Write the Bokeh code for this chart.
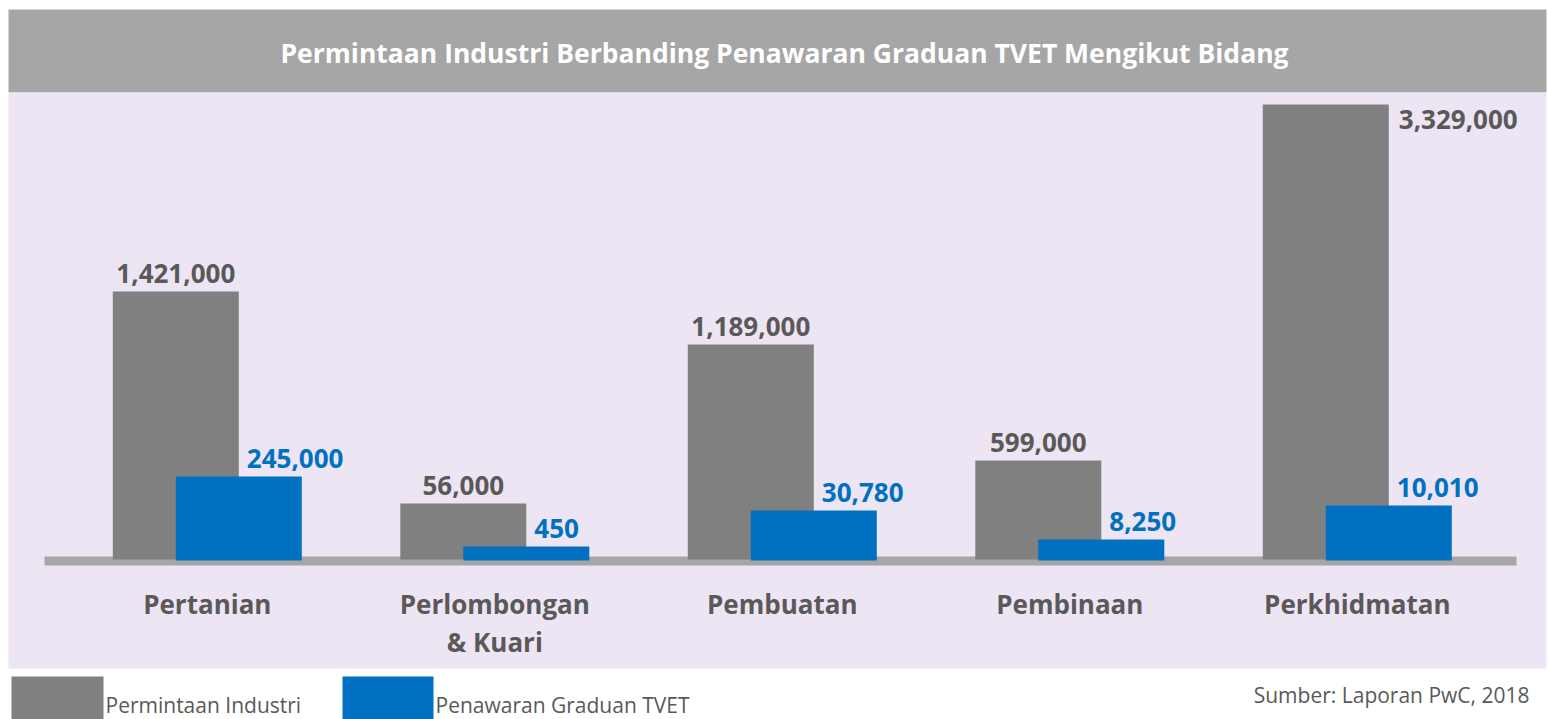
import numpy as np
from bokeh.plotting import figure
from bokeh.models import Range1d, ColumnDataSource, Label
from bokeh.core.properties import value
from bokeh.embed import file_html
from bokeh.resources import INLINE

# ---------------- data ----------------
title = "Permintaan Industri Berbanding Penawaran Graduan TVET Mengikut Bidang"
categories = ["Pertanian", "Perlombongan\n& Kuari", "Pembuatan", "Pembinaan", "Perkhidmatan"]
demand_values = [1421000, 56000, 1189000, 599000, 3329000]     # Permintaan Industri
supply_values = [245000, 450, 30780, 8250, 10010]              # Penawaran Graduan TVET
# the infographic is not drawn to scale: bar lengths as drawn (relative units)
demand_drawn = [266, 54, 213, 97, 453]
supply_drawn = [81, 11, 47, 18, 52]
series_names = ["Permintaan Industri", "Penawaran Graduan TVET"]
source_note = "Sumber: Laporan PwC, 2018"

# ---------------- style ----------------
GRAY_BAR = "#808080"
BLUE_BAR = "#0070C0"
BAND = "#A6A6A6"
LAVENDER = "#EDE5F4"
TXT = "#595959"
FONT = "Open Sans"

W, H = 1548, 719
UNIT = 287.5          # px per category
X0 = 206.8            # px of first category centre
BASE = 557            # px of baseline

def lift(fs):
    # compensation for where the svg renderer places the alphabetic baseline
    return 0.38 * fs

p = figure(width=W, height=H, output_backend="svg", toolbar_location=None,
           x_range=Range1d(-X0 / UNIT, (W - X0) / UNIT),
           y_range=Range1d(-(H - BASE), BASE),
           x_axis_location=None, y_axis_location=None, min_border=0)
p.grid.visible = False
p.outline_line_color = None
p.background_fill_color = "white"
p.border_fill_color = "white"
p.extra_x_ranges = {"px": Range1d(0, W)}
p.extra_y_ranges = {"py": Range1d(H, 0)}

def px_quad(l, r, t, b, color):
    p.quad(left=[l], right=[r], top=[t], bottom=[b], fill_color=color,
           line_color=None, x_range_name="px", y_range_name="py")

# background panels
px_quad(8, 1546, 9, 92, BAND)
px_quad(8, 1546, 92, 668, LAVENDER)
# baseline strip
px_quad(44, 1516, 556, 565, BAND)

idx = np.arange(len(categories), dtype=float)
bw = 126 / UNIT
off = 31.5 / UNIT

src = ColumnDataSource(dict(
    xg=idx - off, xb=idx + off,
    hg=demand_drawn, hb=supply_drawn,
))
p.vbar(x="xg", top="hg", bottom=-2, width=bw, source=src,
       fill_color=GRAY_BAR, line_color=None)
p.vbar(x="xb", top="hb", bottom=-3, width=bw, source=src,
       fill_color=BLUE_BAR, line_color=None)

VFS = 26
# value labels
imax = int(np.argmax(demand_values))
gx, gy, ga, gt = [], [], [], []
for i, v in enumerate(demand_values):
    if i == imax:
        gx.append(i - off + bw / 2 + 10 / UNIT); gy.append(demand_drawn[i] - 25 + lift(VFS)); ga.append("left")
    else:
        gx.append(i - off); gy.append(demand_drawn[i] + 8 + lift(VFS)); ga.append("center")
    gt.append(f"{v:,}")
p.text(x=gx, y=gy, text=gt, text_align=ga, text_baseline="alphabetic",
       text_font=value(FONT), text_font_style="bold", text_font_size=f"{VFS}px",
       text_color=TXT)

bx = [i - off + bw / 2 + 8 / UNIT for i in range(len(supply_values))]
by = [h + 8 + lift(VFS) for h in supply_drawn]
bt = [f"{v:,}" for v in supply_values]
p.text(x=bx, y=by, text=bt, text_align="left", text_baseline="alphabetic",
       text_font=value(FONT), text_font_style="bold", text_font_size=f"{VFS}px",
       text_color=BLUE_BAR)

# category labels
CFS = 26
cx, cy, ct = [], [], []
for i, c in enumerate(categories):
    for j, line in enumerate(c.split("\n")):
        cx.append(i); cy.append(-56 - 38 * j + lift(CFS)); ct.append(line)
p.text(x=cx, y=cy, text=ct, text_align="center", text_baseline="alphabetic",
       text_font=value(FONT), text_font_style="bold", text_font_size=f"{CFS}px",
       text_color=TXT)

# title
TFS = 26.5
p.add_layout(Label(x=784, y=63 - lift(TFS), x_range_name="px", y_range_name="py", text=title,
                   text_align="center", text_baseline="alphabetic", text_font=FONT,
                   text_font_style="bold", text_font_size=f"{TFS}px", text_color="white"))

# legend
LFS = 21
px_quad(11, 103, 676, 719, GRAY_BAR)
px_quad(342, 433, 676, 719, BLUE_BAR)
p.add_layout(Label(x=105, y=712 - lift(LFS), x_range_name="px", y_range_name="py", text=series_names[0],
                   text_align="left", text_baseline="alphabetic", text_font=FONT,
                   text_font_size=f"{LFS}px", text_color=TXT))
p.add_layout(Label(x=435, y=712 - lift(LFS), x_range_name="px", y_range_name="py", text=series_names[1],
                   text_align="left", text_baseline="alphabetic", text_font=FONT,
                   text_font_size=f"{LFS}px", text_color=TXT))
p.add_layout(Label(x=1529, y=702 - lift(LFS), x_range_name="px", y_range_name="py", text=source_note,
                   text_align="right", text_baseline="alphabetic", text_font=FONT,
                   text_font_size=f"{LFS}px", text_color=TXT))

open("out.html", "w").write(file_html(p, INLINE))
